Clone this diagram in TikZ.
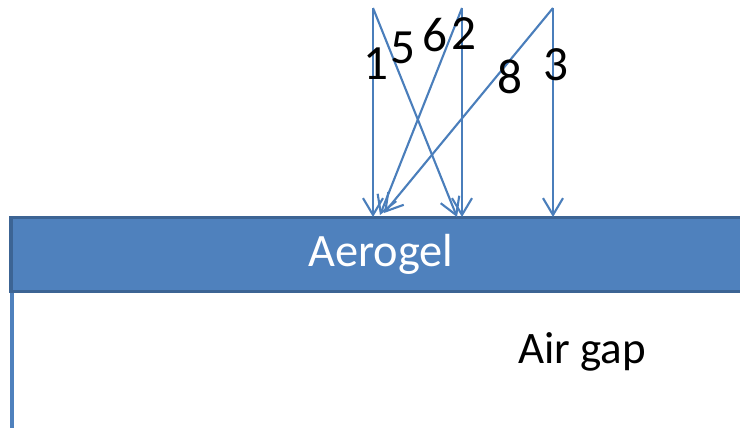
\documentclass[tikz,border=0pt]{standalone}
\usepackage{fontspec}
\setmainfont{Carlito}
\usetikzlibrary{arrows.meta}
\definecolor{gelFill}{HTML}{4f81bd}
\definecolor{gelEdge}{HTML}{3c6494}
\definecolor{rayBlue}{HTML}{4a7ebb}
\tikzset{
  ray/.style={-{Straight Barb[length=4.2mm,width=5mm,line width=1.5pt]},
              draw=rayBlue, line width=1.5pt},
  gel/.style={draw=gelEdge, fill=gelFill, line width=2.6pt, inner sep=0pt,
              minimum width=18.5cm, minimum height=1.85cm,
              text=white, font=\fontsize{33}{36}\selectfont},
  gapline/.style={draw=gelFill, line width=3pt},
  num/.style={font=\fontsize{35}{40}\selectfont, inner sep=0pt},
  lbl/.style={font=\fontsize{32}{36}\selectfont, inner sep=0pt},
}

\begin{document}
\begin{tikzpicture}[x=0.025cm,y=-0.025cm]
    \useasboundingbox (0,0) rectangle (740,427);
    \clip (0,0) rectangle (740,427);
    % aerogel slab and air gap wall
    \node[gel] (band) at (381,254.5) {Aerogel};
    \coordinate (floor) at (13,440);
    \draw[gapline] (band.south west) ++(3,0) coordinate (wall) -- (wall |- floor);
    \node[lbl] (air) at (582,352) {Air gap};
    % incoming rays
    \foreach \n/\x in {1/373, 2/462, 3/553}{
      \coordinate (top\n) at (\x,8);
      \coordinate (hit\n) at (\x,217);
    }
    \coordinate (hit5) at (457,217);
    \coordinate (hit6) at (380,215);
    \coordinate (hit8) at (384,213);
    \foreach \n in {1,2,3}{
      \draw[ray] (top\n) -- (hit\n);}
    \draw[ray] (top1) -- (hit5);
    \draw[ray] (top2) -- (hit6);
    \draw[ray] (top3) -- (hit8);
    % ray numbers
    \foreach \t/\x/\y in {1/376/64, 5/403/48, 6/435/35, 2/464/34, 8/510/77, 3/556/65}{
      \node[num] (n\t) at (\x,\y) {\t};}
\end{tikzpicture}
\end{document}
